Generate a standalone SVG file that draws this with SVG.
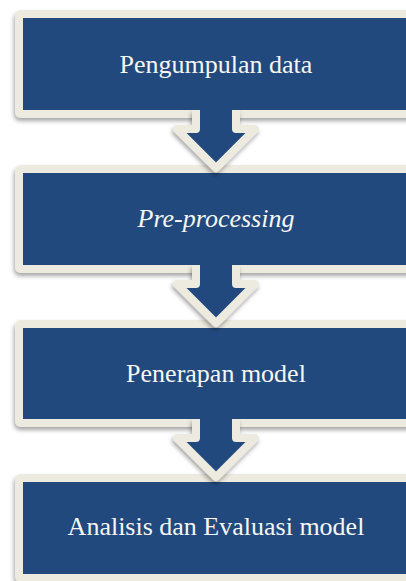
<svg xmlns="http://www.w3.org/2000/svg" width="406" height="581" viewBox="0 0 406 581">
<defs>
<filter id="sh" x="-20%" y="-20%" width="140%" height="150%">
<feDropShadow dx="-1" dy="3" stdDeviation="2" flood-color="#000" flood-opacity="0.35"/>
</filter>
<style>
.box{fill:#204a7d;stroke:#edeae0;stroke-width:8;stroke-linejoin:round;filter:url(#sh)}
.af{fill:#204a7d;stroke:none}
.as{fill:none;stroke:#edeae0;stroke-width:8;stroke-linejoin:round;stroke-linecap:butt}
.t{font-family:"Liberation Serif","Times New Roman",serif;font-size:26px;fill:#f6f6f2;text-anchor:middle}
</style>
</defs>
<rect width="406" height="581" fill="#ffffff"/>
<g id="n1"><rect class="box" x="19" y="14" width="420" height="100" rx="2"/><text class="t" x="216" y="73">Pengumpulan data</text></g>
<g id="n2"><rect class="box" x="19" y="169" width="420" height="100" rx="2"/><text class="t" x="216" y="227" font-style="italic">Pre-processing</text></g>
<g id="n3"><rect class="box" x="19" y="324" width="420" height="99" rx="2"/><text class="t" x="216" y="382">Penerapan model</text></g>
<g id="n4"><rect class="box" x="19" y="478" width="420" height="100" rx="2"/><text class="t" x="216" y="535">Analisis dan Evaluasi model</text></g>
<g id="connectors">
<g filter="url(#sh)">
<path class="af" d="M196 110 V129 H177 L216 168 L255 129 H236 V110 Z"/>
<path class="as" d="M196 110 V129 H177 L216 168 L255 129 H236 V110"/>
</g>
<g filter="url(#sh)">
<path class="af" d="M196 265 V284 H177 L216 323 L255 284 H236 V265 Z"/>
<path class="as" d="M196 265 V284 H177 L216 323 L255 284 H236 V265"/>
</g>
<g filter="url(#sh)">
<path class="af" d="M196 419 V438 H177 L216 477 L255 438 H236 V419 Z"/>
<path class="as" d="M196 419 V438 H177 L216 477 L255 438 H236 V419"/>
</g>
</g>
</svg>
